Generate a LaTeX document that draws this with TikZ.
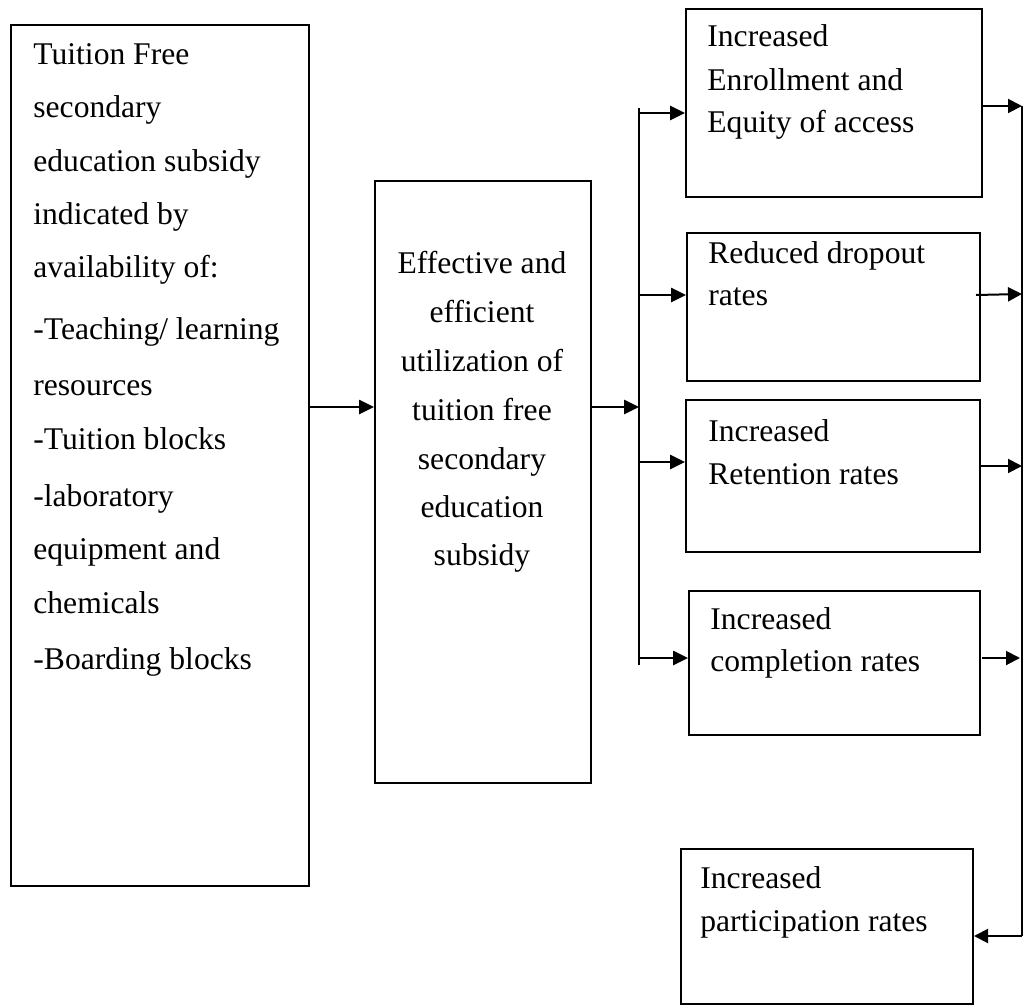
\documentclass[tikz,border=0pt]{standalone}
\usepackage{fontspec}
\setmainfont{Liberation Serif}
\usetikzlibrary{arrows.meta}
\newcommand\mybox[5]{\node[box,minimum width={(#4-#2)*0.5pt},minimum height={(#5-#3)*0.5pt}] (#1) at (#2,#3) {};}
\begin{document}
\begin{tikzpicture}[x=0.5pt,y=-0.5pt,
  box/.style={draw,line width=1pt,inner sep=0pt,anchor=north west},
  txt/.style={anchor=base west,inner sep=0pt,font=\fontsize{15.8pt}{19pt}\selectfont},
  ctxt/.style={anchor=base,inner sep=0pt,font=\fontsize{15.8pt}{19pt}\selectfont},
  arr/.style={line width=1.3pt,-{Triangle[length=7.5pt,width=7pt]}},
  arrs/.style={line width=1pt,-{Triangle[length=7pt,width=7pt]}},
  ln/.style={line width=1.3pt},
  lns/.style={line width=1pt}]
\useasboundingbox (0,0) rectangle (1024,1007);
% boxes
\mybox{L}{10}{24}{308}{885}
\mybox{M}{374}{180}{590}{782}
\mybox{B1}{685}{8}{981}{196}
\mybox{B2}{686}{232}{979}{380}
\mybox{B3}{685}{399}{979}{551}
\mybox{B4}{688}{590}{979}{734}
\mybox{B5}{680}{848}{972}{1003}
% left text
\node[txt] (l1) at (33,64) {Tuition Free};
\node[txt] (l2) at (33,117) {secondary};
\node[txt] (l3) at (33,171) {education subsidy};
\node[txt] (l4) at (33,224) {indicated by};
\node[txt] (l5) at (33,277) {availability of:};
\node[txt] (l6) at (33,339) {-Teaching/ learning};
\node[txt] (l7) at (33,395) {resources};
\node[txt] (l8) at (33,449) {-Tuition blocks};
\node[txt] (l9) at (33,506) {-laboratory};
\node[txt] (l10) at (33,559) {equipment and};
\node[txt] (l11) at (33,613) {chemicals};
\node[txt] (l12) at (33,669) {-Boarding blocks};
% middle text
\node[ctxt] (m1) at (482,273) {Effective and};
\node[ctxt] (m2) at (482,322) {efficient};
\node[ctxt] (m3) at (482,371) {utilization of};
\node[ctxt] (m4) at (482,420) {tuition free};
\node[ctxt] (m5) at (482,469) {secondary};
\node[ctxt] (m6) at (482,517) {education};
\node[ctxt] (m7) at (482,565) {subsidy};
% right texts
\node[txt] (a1) at (707,46) {Increased};
\node[txt] (a2) at (707,90) {Enrollment and};
\node[txt] (a3) at (707,132) {Equity of access};
\node[txt] (b1) at (708,263) {Reduced dropout};
\node[txt] (b2) at (708,305) {rates};
\node[txt] (c1) at (708,441) {Increased};
\node[txt] (c2) at (708,484) {Retention rates};
\node[txt] (d1) at (710,629) {Increased};
\node[txt] (d2) at (710,671) {completion rates};
\node[txt] (e1) at (700,888) {Increased};
\node[txt] (e2) at (700,931) {participation rates};
% connectors
\coordinate (bt) at (639,108);
\coordinate (bb) at (639,665);
\coordinate (bm) at (639,407);
\draw[arr] (L.east |- 0,407) -- (M.west |- 0,407);
\draw[arr] (M.east |- 0,407) -- (bm);
\draw[ln] (bt) -- (bb);
\coordinate (s1) at (639,113);
\coordinate (s2) at (639,295);
\coordinate (s3) at (639,462);
\coordinate (s4) at (639,658);
\draw[arr] (s1) -- (B1.west |- s1);
\draw[arr] (s2) -- (B2.west |- s2);
\draw[arr] (s3) -- (B3.west |- s3);
\draw[arr] (s4) -- (B4.west |- s4);
\coordinate (r1) at (1022,106);
\coordinate (r2) at (1022,294);
\coordinate (r3) at (1022,466);
\coordinate (r4) at (1020,658);
\coordinate (r5) at (1022,936);
\draw[arrs] (B1.east |- r1) -- (r1);
\draw[arrs] (976,295) -- (r2);
\draw[arrs] (B3.east |- r3) -- (r3);
\draw[arrs] (982,658) -- (r4);
\draw[lns] (r1) -- (r5);
\draw[arrs] (r5) -- (B5.east |- r5);
\end{tikzpicture}
\end{document}
